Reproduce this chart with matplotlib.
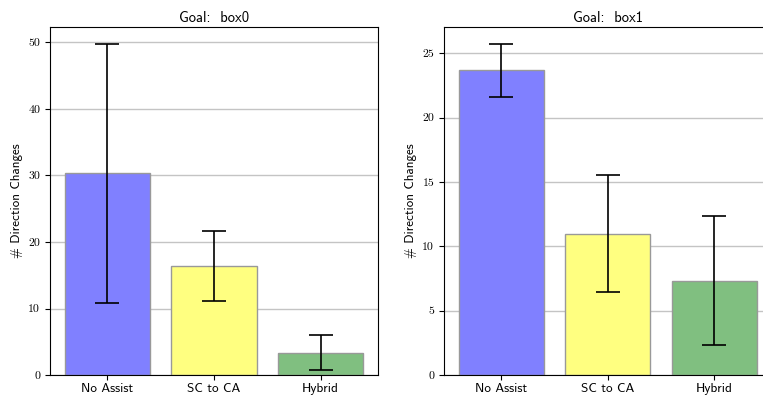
import numpy as np
import matplotlib
matplotlib.use("Agg")
import matplotlib.pyplot as plt

methods = ["No Assist", "SC to CA", "Hybrid"]
goals = ["box0", "box1"]
colors = ["#8080ff", "#ffff80", "#80bf80"]

# mean number of direction changes and std per method, one list per goal
means_box0 = [30.35, 16.35, 3.35]
errs_box0 = [19.45, 5.25, 2.65]
means_box1 = [23.68, 10.99, 7.34]
errs_box1 = [2.06, 4.55, 5.0]

sans = "cmss10"
serif = "cmr10"

fig = plt.figure(figsize=(7.63, 3.99), dpi=100)
ax0 = fig.add_axes([0.0655, 0.060, 0.430, 0.872])
ax1 = fig.add_axes([0.5819, 0.060, 0.4292, 0.872])

for ax, goal, means, errs in [(ax0, goals[0], means_box0, errs_box0),
                              (ax1, goals[1], means_box1, errs_box1)]:
    x = np.arange(len(methods))
    ax.bar(x, means, width=0.8, color=colors, edgecolor="#999999",
           linewidth=1.0, zorder=2)
    ax.errorbar(x, means, yerr=errs, fmt="none", ecolor="black",
                elinewidth=1.2, capsize=8.5, capthick=1.2, zorder=3)
    ax.set_xticks(x)
    ax.set_xticklabels(methods, family=sans, fontsize=9.5)
    for lab in ax.get_yticklabels():
        lab.set_family(serif)
    ax.tick_params(axis='y', labelsize=8.5)
    ax.tick_params(axis='x', pad=2)
    ax.yaxis.grid(True, color="#c4c4c4", linewidth=1.0, zorder=0)
    ax.set_axisbelow(True)
    ax.set_title("Goal:  " + goal, family=sans, fontsize=10.5, pad=4)
    ax.set_ylabel("# Direction Changes", family=sans, fontsize=9.4, labelpad=4)
    for s in ax.spines.values():
        s.set_color("black")

plt.savefig("out.png", dpi=100)
